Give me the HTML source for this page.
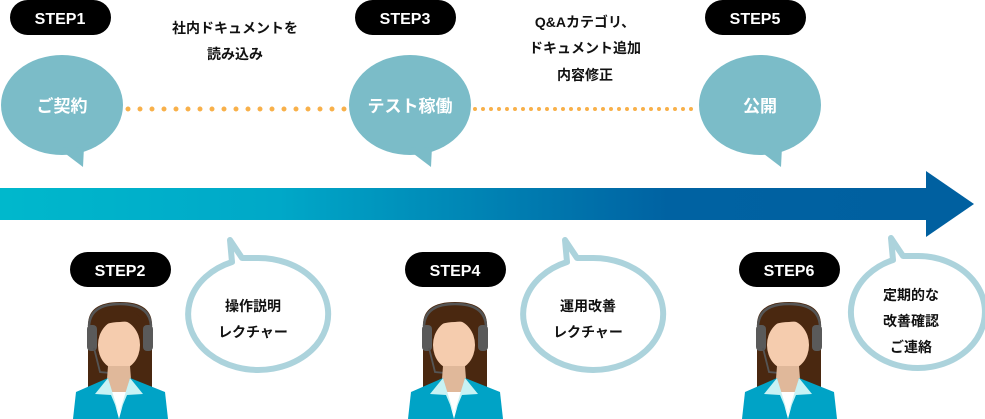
<!DOCTYPE html>
<html><head><meta charset="utf-8"><style>
body{margin:0;background:#fff;}
svg{display:block;font-family:"Liberation Sans","Noto Sans CJK JP",sans-serif;font-weight:bold;}
</style></head><body>
<svg width="985" height="419" viewBox="0 0 985 419" xmlns="http://www.w3.org/2000/svg">
<defs>
<linearGradient id="ar" x1="0" x2="1" y1="0" y2="0">
<stop offset="0" stop-color="#00b8cc"/><stop offset="0.3" stop-color="#00a8c8"/><stop offset="0.72" stop-color="#0062a2"/><stop offset="1" stop-color="#0060a0"/>
</linearGradient>
<g id="person">
<!-- coords relative to x=72,y=300 in reference -->
<path d="M16,25 Q16,2 48,2 Q80,2 80,25 L80,88 L16,88 Z" fill="#4a2810"/>
<ellipse cx="47" cy="45" rx="21" ry="25" fill="#f5ccae"/>
<path d="M22,30 Q26,8 48,8 Q70,8 72,30 Q62,20 48,22 Q34,22 22,30 Z" fill="#4a2810"/>
<path d="M17,26 Q18,4 48,4 Q78,4 79,26" fill="none" stroke="#555" stroke-width="2.5"/>
<rect x="15" y="25" width="10" height="26" rx="4" fill="#5a5a5a"/>
<rect x="71" y="25" width="10" height="26" rx="4" fill="#5a5a5a"/>
<path d="M22,48 L28,72 L38,73" fill="none" stroke="#555" stroke-width="1.8"/>
<rect x="36" y="70" width="10" height="4" rx="2" fill="#555"/>
<path d="M36,66 L58,66 L60,92 L34,92 Z" fill="#e0b89a"/>
<path d="M1,119 L4,92 L36,78 L47,119 Z" fill="#00a3c6"/>
<path d="M96,119 L93,92 L58,78 L47,119 Z" fill="#00a3c6"/>
<path d="M36,78 L47,114 L39,95 L23,94 Z" fill="#c8f2f4"/>
<path d="M58,78 L47,114 L55,95 L71,94 Z" fill="#c8f2f4"/>
</g>
</defs>
<rect x="0" y="188" width="928" height="32" fill="url(#ar)"/>
<polygon points="926,171 974,204 926,237" fill="#0060a0"/>

<g font-size="16" fill="#fff" text-anchor="middle">
<rect x="10" y="0" width="101" height="35" rx="17.5" fill="#000"/><text x="60" y="24" fill="#fff">STEP1</text>
<rect x="355" y="0" width="101" height="35" rx="17.5" fill="#000"/><text x="405" y="24" fill="#fff">STEP3</text>
<rect x="705" y="0" width="101" height="35" rx="17.5" fill="#000"/><text x="755" y="24" fill="#fff">STEP5</text>
<rect x="70" y="252" width="101" height="35" rx="17.5" fill="#000"/><text x="120" y="276" fill="#fff">STEP2</text>
<rect x="405" y="252" width="101" height="35" rx="17.5" fill="#000"/><text x="455" y="276" fill="#fff">STEP4</text>
<rect x="739" y="252" width="101" height="35" rx="17.5" fill="#000"/><text x="789" y="276" fill="#fff">STEP6</text>
</g>

<line x1="128" y1="109" x2="350" y2="109" stroke="#f8b04a" stroke-width="5" stroke-linecap="round" stroke-dasharray="0 12"/>
<line x1="475" y1="109" x2="699" y2="109" stroke="#f8b04a" stroke-width="4" stroke-linecap="round" stroke-dasharray="0 8"/>

<g fill="#7bbcc8">
<ellipse cx="62" cy="105" rx="61" ry="50"/><polygon points="58,148 84,147 83,167"/>
<ellipse cx="410" cy="105" rx="61" ry="50"/><polygon points="406,148 432,147 431,167"/>
<ellipse cx="760" cy="105" rx="61" ry="50"/><polygon points="756,148 782,147 781,167"/>
</g>
<g font-size="17" fill="#fff" text-anchor="middle">
<text x="62" y="112">ご契約</text>
<text x="410" y="112">テスト稼働</text>
<text x="760" y="112">公開</text>
</g>
<g font-size="14" fill="#111" text-anchor="middle">
<text x="235" y="33">社内ドキュメントを</text>
<text x="235" y="59">読み込み</text>
<text x="585" y="27">Q&amp;Aカテゴリ、</text>
<text x="585" y="53">ドキュメント追加</text>
<text x="585" y="80">内容修正</text>
</g>

<g fill="#fff" stroke="#acd3dc" stroke-width="6" stroke-linejoin="round">
<path d="M242,258 L230,240 L232,262 A70,56 0 1 0 255,258 Z"/>
<path d="M577,258 L565,240 L567,262 A70,56 0 1 0 590,258 Z"/>
<path d="M903,256 L891,238 L893,260 A67,56 0 1 0 916,256 Z"/>
</g>
<g font-size="14" fill="#111" text-anchor="middle">
<text x="253" y="311">操作説明</text>
<text x="253" y="337">レクチャー</text>
<text x="588" y="311">運用改善</text>
<text x="588" y="337">レクチャー</text>
<text x="911" y="300">定期的な</text>
<text x="911" y="326">改善確認</text>
<text x="911" y="352">ご連絡</text>
</g>

<use href="#person" x="72" y="300"/>
<use href="#person" x="407" y="300"/>
<use href="#person" x="741" y="300"/>
</svg>
</body></html>
